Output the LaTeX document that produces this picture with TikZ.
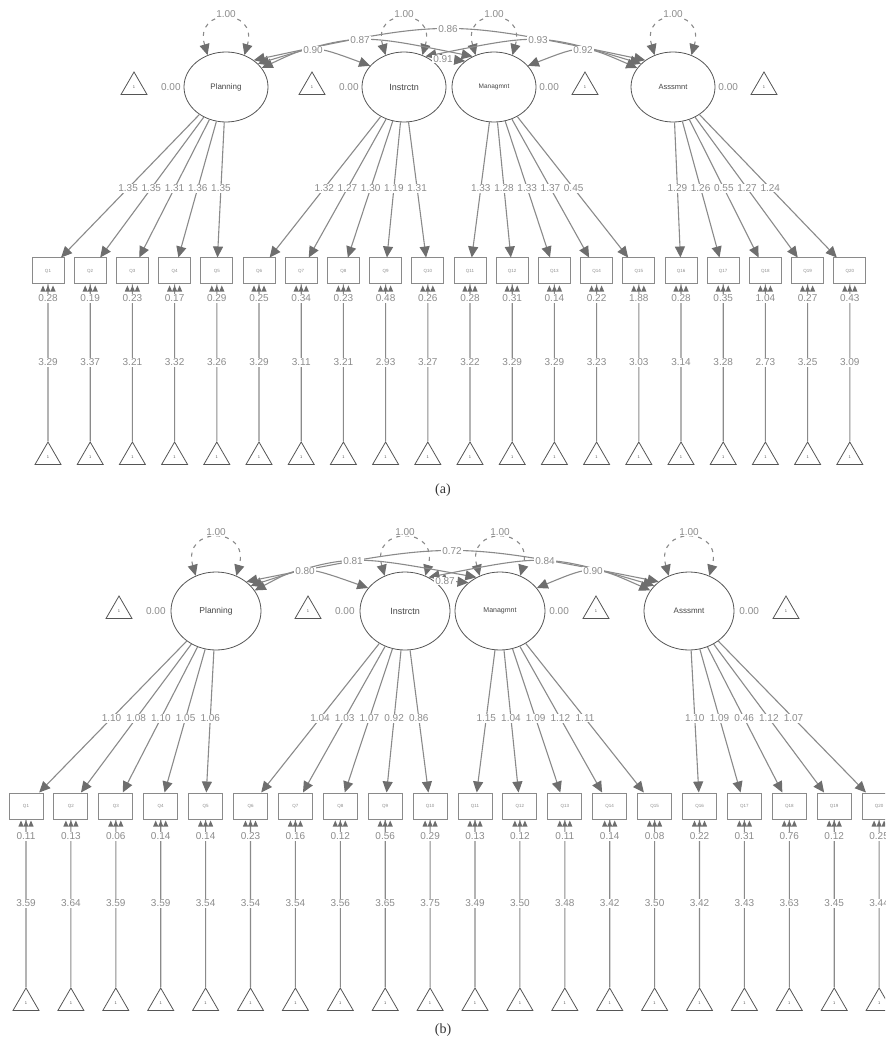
\documentclass[tikz,border=0pt]{standalone}
\usepackage{fontspec}
\setmainfont{Liberation Sans}
\newfontfamily\capfont{Liberation Serif}
\usetikzlibrary{arrows.meta, shapes.geometric, calc, positioning}
\definecolor{semline}{HTML}{8A8A8A}
\definecolor{semtip}{HTML}{6E6E6E}
\definecolor{semtext}{HTML}{8C8C8C}
\definecolor{semdark}{HTML}{555555}
\tikzset{
  >={Triangle[length=11pt,width=10pt,color=semtip]},
  % latent variables, indicators and unit triangles
  latent/.style={ellipse,draw=semdark,line width=0.8pt,inner sep=0,text=semdark!80!black},
  item/.style={rectangle,draw=semline,line width=1pt,minimum width=32,minimum height=26,inner sep=0,text=semtext,font=\fontsize{4.5}{5}\selectfont},
  unit/.style={regular polygon,regular polygon sides=3,draw=semdark,line width=0.8pt,minimum size=30,inner sep=0,text=semdark,font=\fontsize{4}{4}\selectfont},
  lbl/.style={fill=white,inner sep=0.8pt,text=semtext,font=\fontsize{10}{11}\selectfont},
  % edges
  load/.style={->,draw=semline,line width=1.1pt},
  icpt/.style={draw=semline,line width=1.1pt},
  covar/.style={<->,draw=semline,line width=1.1pt},
  varl/.style={<->,draw=semline,line width=1.1pt,dash pattern=on 4pt off 5pt},
  resid/.style={fill=semtip}
}
% variance loop above a latent node
\newcommand{\varloop}[2]{%
  \draw[varl] (#1.120) .. controls +(-14,-#2) and +(14,-#2) .. (#1.60);
  \node[lbl] (#1v) at ($(#1.north)+(0,-#2+10)$) {1.00};
}
% covariance curve through a label spot
\newcommand{\covline}[4]{%
  \coordinate (#4) at (#3);
  \coordinate (cva) at (#1); \coordinate (cvb) at (#2);
  \draw[covar] (cva) .. controls ($1.3333*(#4)-0.1667*(cva)-0.1667*(cvb)$) .. (cvb);
}
\def\adata{1/aP/1.35/0.28/3.29,2/aP/1.35/0.19/3.37,3/aP/1.31/0.23/3.21,4/aP/1.36/0.17/3.32,5/aP/1.35/0.29/3.26,
  6/aI/1.32/0.25/3.29,7/aI/1.27/0.34/3.11,8/aI/1.30/0.23/3.21,9/aI/1.19/0.48/2.93,10/aI/1.31/0.26/3.27,
  11/aM/1.33/0.28/3.22,12/aM/1.28/0.31/3.29,13/aM/1.33/0.14/3.29,14/aM/1.37/0.22/3.23,15/aM/0.45/1.88/3.03,
  16/aA/1.29/0.28/3.14,17/aA/1.26/0.35/3.28,18/aA/0.55/1.04/2.73,19/aA/1.27/0.27/3.25,20/aA/1.24/0.43/3.09}
\def\bdata{1/bP/1.10/0.11/3.59,2/bP/1.08/0.13/3.64,3/bP/1.10/0.06/3.59,4/bP/1.05/0.14/3.59,5/bP/1.06/0.14/3.54,
  6/bI/1.04/0.23/3.54,7/bI/1.03/0.16/3.54,8/bI/1.07/0.12/3.56,9/bI/0.92/0.56/3.65,10/bI/0.86/0.29/3.75,
  11/bM/1.15/0.13/3.49,12/bM/1.04/0.12/3.50,13/bM/1.09/0.11/3.48,14/bM/1.12/0.14/3.42,15/bM/1.11/0.08/3.50,
  16/bA/1.10/0.22/3.42,17/bA/1.09/0.31/3.43,18/bA/0.46/0.76/3.63,19/bA/1.12/0.12/3.45,20/bA/1.07/0.25/3.44}

\begin{document}
\begin{tikzpicture}[x=1pt,y=-1pt]
  \useasboundingbox (0,0) rectangle (885,1048);
  \clip (0,0) rectangle (885,1048);

  %%% (a)
  \node[latent,minimum width=84,minimum height=70,font=\fontsize{8}{8}\selectfont] (aP) at (226,87) {Planning};
  \node[latent,minimum width=84,minimum height=70,font=\fontsize{9}{9}\selectfont] (aI) at (404,87) {Instrctn};
  \node[latent,minimum width=84,minimum height=70,font=\fontsize{6.5}{7}\selectfont] (aM) at (494,87) {Managmnt};
  \node[latent,minimum width=84,minimum height=70,font=\fontsize{7.5}{8}\selectfont] (aA) at (673,87) {Asssmnt};
  \node[lbl,left=2pt of aP] (aPm) {0.00};
  \node[unit,left=17pt of aPm] (aPt) {1};
  \node[lbl,left=2pt of aI] (aIm) {0.00};
  \node[unit,left=17pt of aIm] (aIt) {1};
  \node[lbl,right=2pt of aM] (aMm) {0.00};
  \node[unit,right=16pt of aMm] (aMt) {1};
  \node[lbl,right=2pt of aA] (aAm) {0.00};
  \node[unit,right=16pt of aAm] (aAt) {1};

  \foreach \f in {aP,aI,aM,aA} {\varloop{\f}{48}}
  \covline{aP.28}{aI.148}{313,50}{aPI}
  \covline{aP.36}{aM.125}{360,40}{aPM}
  \covline{aP.44}{aA.136}{448,29}{aPA}
  \covline{aI.42}{aM.138}{443,59}{aIM}
  \covline{aI.55}{aA.144}{538,40}{aIA}
  \covline{aM.32}{aA.152}{583,50}{aMA}
  \node[lbl] at (aPI) {0.90};
  \node[lbl] at (aPM) {0.87};
  \node[lbl] at (aPA) {0.86};
  \node[lbl] at (aIM) {0.91};
  \node[lbl] at (aIA) {0.93};
  \node[lbl] at (aMA) {0.92};

  \foreach \i in {1,...,20}{
    \pgfmathsetmacro{\qx}{48+(\i-1)*42.2}
    \node[item] (aq\i) at (\qx,271) {Q\i};
    \node[unit] (at\i) at (\qx,457) {1};
  }
  \foreach \i/\f/\lo/\re/\ic in \adata {
    \draw[load] (\f) -- (aq\i);
    \draw[icpt] (at\i) -- (aq\i);
    \foreach \dx in {-5,0,5}
      \fill[resid] ($(aq\i.south)+(\dx,1)$) -- ++(-2.6,6) -- ++(5.2,0) -- cycle;
  }
  \foreach \i/\f/\lo/\re/\ic in \adata {
    \node[lbl] at ($(\f)!0.55!(aq\i)$) {\lo};
    \node[lbl] at ($(aq\i.south)+(0,14)$) {\re};
    \node[lbl] at ($(aq\i.south)+(0,78)$) {\ic};
  }
  \node[font=\capfont\fontsize{14}{16}\selectfont,text=black!80] (capa) at (443,490) {(a)};

  %%% (b)
  \node[latent,minimum width=90,minimum height=78,font=\fontsize{8.5}{9}\selectfont] (bP) at (216,611) {Planning};
  \node[latent,minimum width=90,minimum height=78,font=\fontsize{9}{9}\selectfont] (bI) at (405,611) {Instrctn};
  \node[latent,minimum width=90,minimum height=78,font=\fontsize{7}{7}\selectfont] (bM) at (500,611) {Managmnt};
  \node[latent,minimum width=90,minimum height=78,font=\fontsize{8}{8}\selectfont] (bA) at (689,611) {Asssmnt};
  \node[lbl,left=4pt of bP] (bPm) {0.00};
  \node[unit,left=17pt of bPm] (bPt) {1};
  \node[lbl,left=4pt of bI] (bIm) {0.00};
  \node[unit,left=17pt of bIm] (bIt) {1};
  \node[lbl,right=3pt of bM] (bMm) {0.00};
  \node[unit,right=17pt of bMm] (bMt) {1};
  \node[lbl,right=4pt of bA] (bAm) {0.00};
  \node[unit,right=17pt of bAm] (bAt) {1};

  \foreach \f in {bP,bI,bM,bA} {\varloop{\f}{50}}
  \covline{bP.28}{bI.148}{305,571}{bPI}
  \covline{bP.36}{bM.125}{353,561}{bPM}
  \covline{bP.44}{bA.136}{452,551}{bPA}
  \covline{bI.42}{bM.138}{445,581}{bIM}
  \covline{bI.55}{bA.144}{545,561}{bIA}
  \covline{bM.32}{bA.152}{593,571}{bMA}
  \node[lbl] at (bPI) {0.80};
  \node[lbl] at (bPM) {0.81};
  \node[lbl] at (bPA) {0.72};
  \node[lbl] at (bIM) {0.87};
  \node[lbl] at (bIA) {0.84};
  \node[lbl] at (bMA) {0.90};

  \foreach \i in {1,...,20}{
    \pgfmathsetmacro{\qx}{26+(\i-1)*44.9}
    \node[item,minimum width=34] (bq\i) at (\qx,806) {Q\i};
    \node[unit] (bt\i) at (\qx,1003) {1};
  }
  \foreach \i/\f/\lo/\re/\ic in \bdata {
    \draw[load] (\f) -- (bq\i);
    \draw[icpt] (bt\i) -- (bq\i);
    \foreach \dx in {-5,0,5}
      \fill[resid] ($(bq\i.south)+(\dx,1)$) -- ++(-2.6,6) -- ++(5.2,0) -- cycle;
  }
  \foreach \i/\f/\lo/\re/\ic in \bdata {
    \node[lbl] at ($(\f)!0.55!(bq\i)$) {\lo};
    \node[lbl] at ($(bq\i.south)+(0,17)$) {\re};
    \node[lbl] at ($(bq\i.south)+(0,84)$) {\ic};
  }
  \node[font=\capfont\fontsize{14}{16}\selectfont,text=black!80] (capb) at (443,1030) {(b)};
\end{tikzpicture}
\end{document}
